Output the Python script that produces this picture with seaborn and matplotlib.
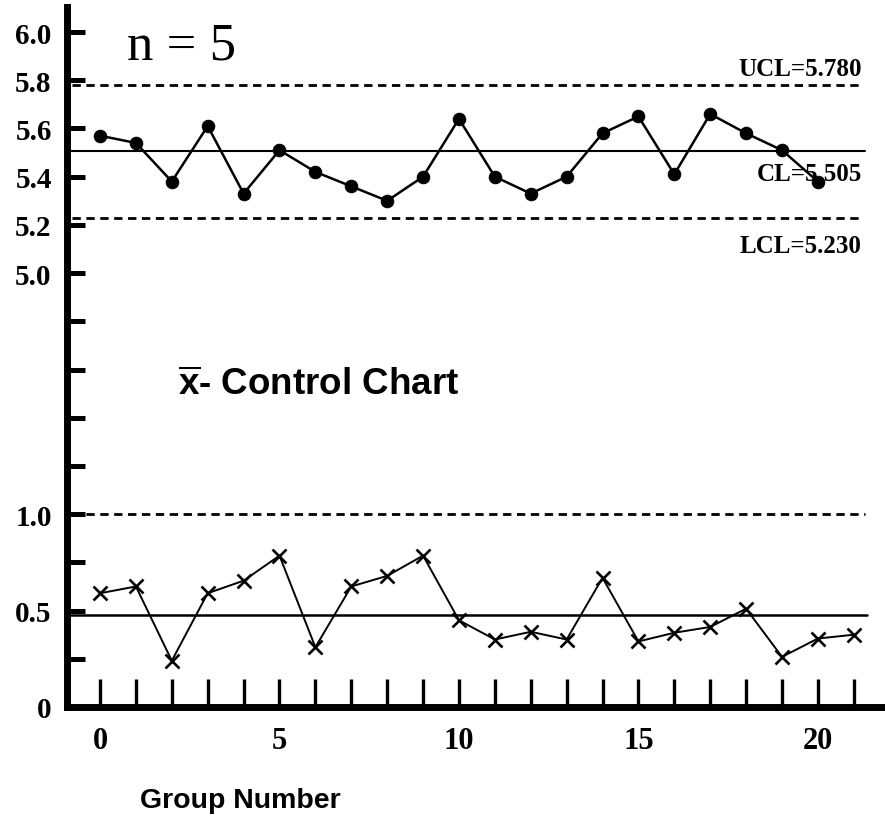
import numpy as np
import matplotlib
matplotlib.use("Agg")
import matplotlib.pyplot as plt
from matplotlib import font_manager
import seaborn as sns

# subgroup numbers and the two charted statistics (subgroup size n = 5)
groups = list(range(22))
xbar = [5.57, 5.54, 5.38, 5.61, 5.33, 5.51, 5.42, 5.36, 5.30, 5.40, 5.64,
        5.40, 5.33, 5.40, 5.58, 5.65, 5.41, 5.66, 5.58, 5.51, 5.38]
rng = [0.59, 0.625, 0.24, 0.59, 0.655, 0.785, 0.31, 0.625, 0.68, 0.785, 0.45,
       0.35, 0.39, 0.35, 0.67, 0.34, 0.385, 0.415, 0.51, 0.26, 0.355, 0.375]

xbar_ucl = 5.780
xbar_cl = 5.505
xbar_lcl = 5.230
r_ucl = 1.008
r_cl = 0.477

ytick_vals = [0, 0.25, 0.5, 0.75, 1.0, 1.8, 2.6, 3.4, 4.2,
              5.0, 5.2, 5.4, 5.6, 5.8, 6.0]
ytick_labels = ["0", "", "0.5", "", "1.0", "", "", "", "",
                "5.0", "5.2", "5.4", "5.6", "5.8", "6.0"]
xtick_labels = [str(g) if g % 5 == 0 else "" for g in groups]

# broken value axis: R chart in the lower part, x-bar chart in the upper part
KNOT_DATA = [-1.0, 0.0, 1.0, 5.0, 6.0, 7.0]
KNOT_POS = [-4.0, 0.0, 4.0, 9.0, 14.0, 19.0]


def fwd(v):
    return np.interp(v, KNOT_DATA, KNOT_POS)


def inv(p):
    return np.interp(p, KNOT_POS, KNOT_DATA)


names = {f.name for f in font_manager.fontManager.ttflist}
narrow = "Liberation Sans Narrow" in names
SANS = "Liberation Sans Narrow" if narrow else "Liberation Sans"
SERIF = "Liberation Serif"

sns.set_theme(style="white", rc={"text.color": "black",
                                 "axes.labelcolor": "black",
                                 "xtick.color": "black",
                                 "ytick.color": "black",
                                 "axes.edgecolor": "black"})
plt.rcParams["font.family"] = [SERIF, "DejaVu Serif"]
plt.rcParams["mathtext.fontset"] = "custom"
plt.rcParams["mathtext.bf"] = SANS + ":bold"
plt.rcParams["mathtext.rm"] = SANS + ":bold"

fig = plt.figure(figsize=(8.85, 8.2), dpi=100)
ax = fig.add_axes([67 / 885, 112 / 820, 818 / 885, 700 / 820])

sns.lineplot(x=groups[:len(xbar)], y=xbar, ax=ax, color="black", lw=1.8,
             marker="o", markersize=9, markeredgecolor="black")
sns.lineplot(x=groups, y=rng, ax=ax, color="black", lw=1.4,
             marker="x", markersize=10, markeredgewidth=1.9,
             markeredgecolor="black")

dash = (0, (3, 2))
ax.axhline(xbar_ucl, xmin=0.006, xmax=0.972, color="black", lw=2, ls=dash)
ax.axhline(xbar_cl, xmin=0.0, xmax=0.976, color="black", lw=1.5)
ax.axhline(xbar_lcl, xmin=0.006, xmax=0.972, color="black", lw=2, ls=dash)
ax.axhline(r_ucl, xmin=0.006, xmax=0.976, color="black", lw=2, ls=dash)
ax.axhline(r_cl, xmin=0.0, xmax=0.978, color="black", lw=1.8)

ax.set_yscale("function", functions=(fwd, inv))
ax.set_ylim(0, 6.104)
ax.set_xlim(-0.92, 21.87)
ax.set_yticks(ytick_vals)
ax.set_yticklabels(ytick_labels)
ax.set_xticks(groups)
ax.set_xticklabels(xtick_labels)
ax.minorticks_off()
ax.set_xlabel("")
ax.set_ylabel("")

for side in ("top", "right"):
    ax.spines[side].set_visible(False)
for side in ("left", "bottom"):
    ax.spines[side].set_linewidth(5)
    ax.spines[side].set_color("black")

ax.tick_params(axis="y", direction="in", length=13, width=3.6, pad=11,
               labelsize=21, left=True)
ax.tick_params(axis="x", direction="in", length=20, width=2.4, pad=14,
               labelsize=22, bottom=True)
for lab in ax.get_xticklabels() + ax.get_yticklabels():
    lab.set_fontweight("bold")

lab_kw = dict(xycoords="data", textcoords="offset points", ha="right",
              fontsize=18, fontweight="bold")
ax.annotate(f"UCL={xbar_ucl:.3f}", xy=(21.22, xbar_ucl), xytext=(0, 4),
            va="bottom", **lab_kw)
ax.annotate(f"CL={xbar_cl:.3f}", xy=(21.22, xbar_cl), xytext=(0, -8),
            va="top", **lab_kw)
ax.annotate(f"LCL={xbar_lcl:.3f}", xy=(21.22, xbar_lcl), xytext=(0, -12),
            va="top", **lab_kw)

ax.text(0.073, 0.926, "n = 5", transform=ax.transAxes, fontsize=38,
        va="baseline", ha="left")
ax.text(0.136, 0.447, r"$\overline{\mathbf{x}}$- Control Chart",
        transform=ax.transAxes, fontsize=32 if narrow else 26.5,
        fontweight="bold", family=SANS, va="baseline", ha="left")
fig.text(0.158, 0.0146, "Group Number", fontsize=24 if narrow else 20.5,
         fontweight="bold", family=SANS, va="baseline", ha="left")

fig.savefig("out.png", dpi=100)
